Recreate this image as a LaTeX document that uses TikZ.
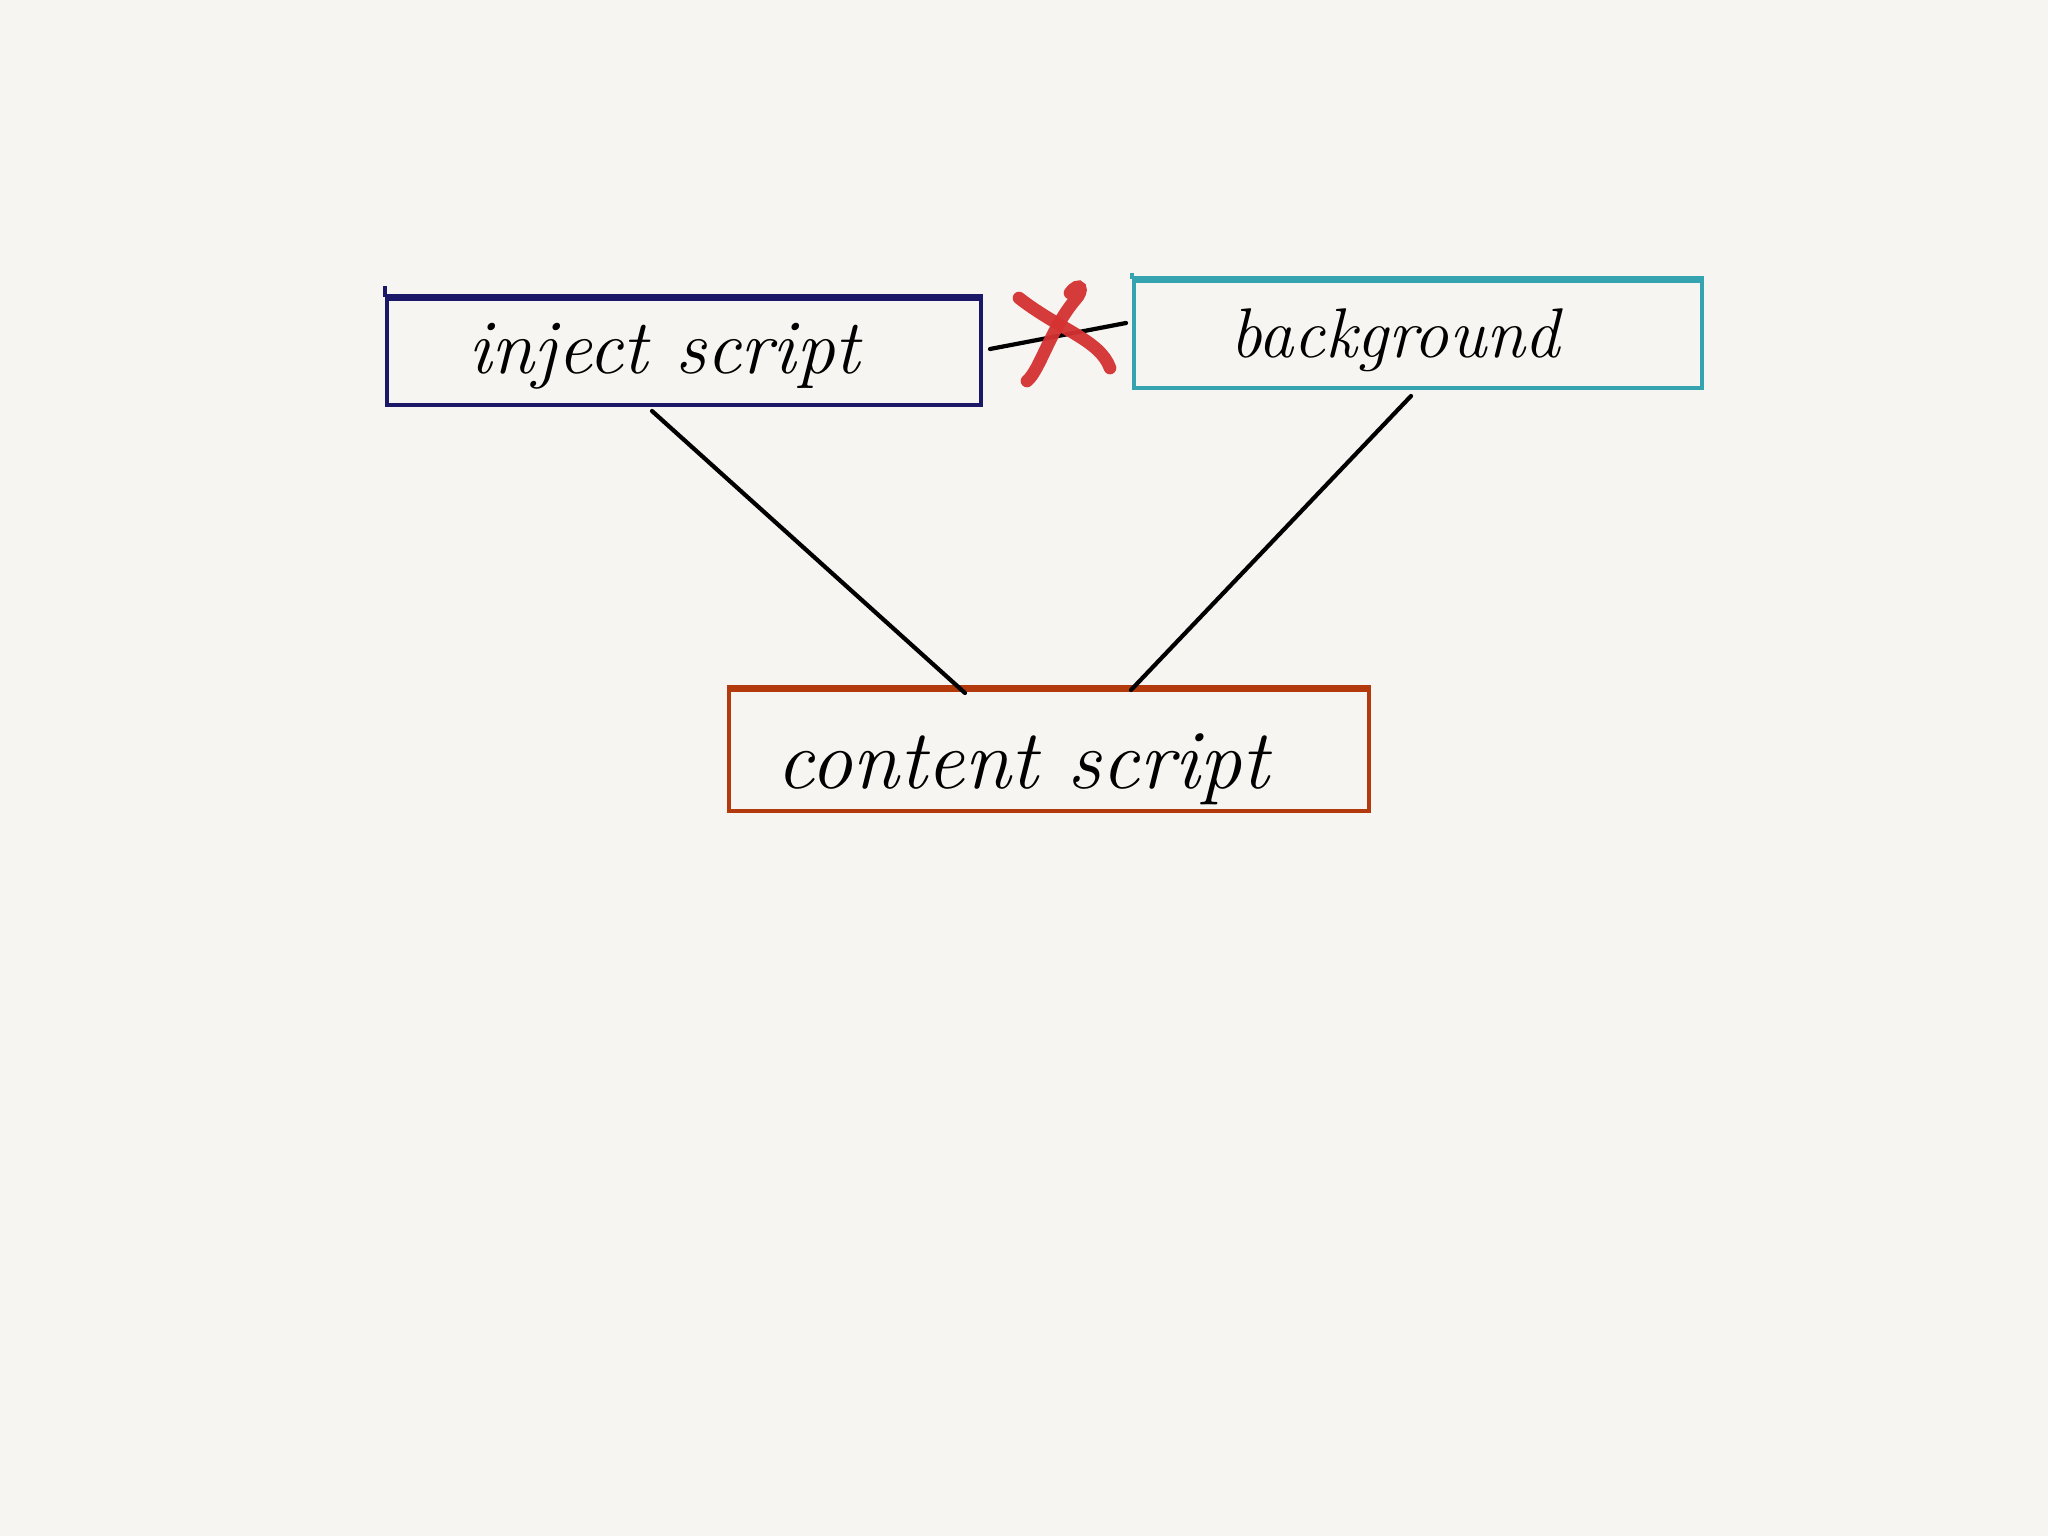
\documentclass[tikz,border=0pt]{standalone}
\begin{document}
\begin{tikzpicture}[x=0.01cm,y=-0.01cm,
  box/.style={draw,line width=1.1pt,inner sep=0pt},
  lbl/.style={font=\itshape},
  conn/.style={line width=1.2pt,line cap=round,black}]
\definecolor{bgc}{HTML}{F6F5F1}
\definecolor{navy}{HTML}{1C1868}
\definecolor{teal2}{HTML}{35A4B0}
\definecolor{rust}{HTML}{B23A0C}
\definecolor{xred}{HTML}{D53232}
\fill[bgc] (0,0) rectangle (2048,1536);
\useasboundingbox (0,0) rectangle (2048,1536);
% boxes
\node[box,draw=navy,minimum width=594*0.01cm,minimum height=106*0.01cm] (inj) at (684,352) {};
\node[box,draw=teal2,minimum width=568*0.01cm,minimum height=107*0.01cm] (bg) at (1418,334.5) {};
\node[box,draw=rust,minimum width=640*0.01cm,minimum height=121*0.01cm] (cs) at (1049,750.5) {};
% thicker top edges
\draw[navy,line width=1.8pt] (inj.north west) -- (inj.north east);
\draw[navy,line width=1.2pt] (inj.north west) -- ++(0,-11);
\draw[teal2,line width=1.8pt] (bg.north west) -- (bg.north east);
\draw[teal2,line width=1.2pt] (bg.north west) -- ++(0,-6);
\draw[rust,line width=1.7pt] (cs.north west) -- (cs.north east);
% labels
\node[lbl,font=\fontsize{22}{26}\selectfont\itshape] (tinj) at (664,356) {inject script};
\node[lbl,font=\fontsize{20}{24}\selectfont\itshape] (tbg) at (1395,340) {background};
\node[lbl,font=\fontsize{24}{28}\selectfont\itshape] (tcs) at (1023,769) {content script};
% connectors
\coordinate (a1) at (652,411);
\coordinate (a2) at (965,693);
\coordinate (b1) at (1411,396);
\coordinate (b2) at (1131,690);
\draw[conn] (a1) -- (a2);
\draw[conn] (b1) -- (b2);
\coordinate (c1) at (990,349);
\coordinate (c2) at (1126,323);
\draw[conn] (c1) -- (c2);
% red X
\draw[xred,line width=3.6pt,line cap=round,opacity=0.95] (1019,298) .. controls (1060,330) and (1100,340) .. (1110,368);
\draw[xred,line width=3.6pt,line cap=round,opacity=0.95] (1070,293) .. controls (1080,280) and (1085,290) .. (1075,300) .. controls (1050,330) and (1040,370) .. (1027,381);
\end{tikzpicture}
\end{document}
